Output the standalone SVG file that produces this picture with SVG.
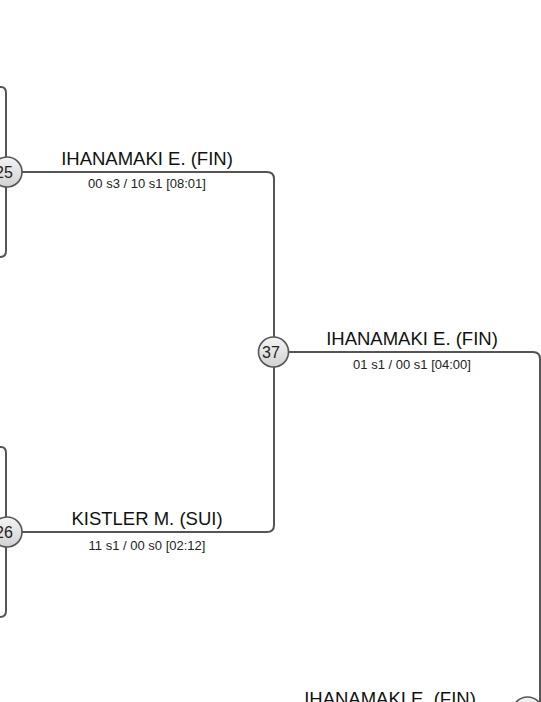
<svg xmlns="http://www.w3.org/2000/svg" width="541" height="702" viewBox="0 0 541 702">
<defs>
<linearGradient id="cg" x1="0" y1="0" x2="0" y2="1">
<stop offset="0" stop-color="#f4f4f4"/>
<stop offset="1" stop-color="#d2d2d2"/>
</linearGradient>
<style>
.ln{fill:none;stroke:#555;stroke-width:2}
.nd circle{fill:url(#cg);stroke:#555;stroke-width:1.6}
.nd text{font-family:"Liberation Sans",Arial,sans-serif;font-size:16px;fill:#222;text-anchor:middle}
.t{font-family:"Liberation Sans",Arial,sans-serif;font-size:18.5px;fill:#111;text-anchor:middle}
.s{font-family:"Liberation Sans",Arial,sans-serif;font-size:13px;fill:#222;text-anchor:middle}
</style>
</defs>
<rect width="541" height="702" fill="#fff"/>
<g id="connectors">
<path class="ln" d="M-20 87 H1 Q6 87 6 93 V251 Q6 257 0 257 H-20"/>
<path class="ln" d="M-20 447 H1 Q6 447 6 453 V611 Q6 617 0 617 H-20"/>
<path class="ln" d="M20 172 H267 Q274 172 274 179 V525 Q274 532 267 532 H20"/>
<path class="ln" d="M288 352 H533 Q540 352 540 359 V702"/>
</g>
<g id="label-25">
<text class="t" x="147" y="164.5">IHANAMAKI E. (FIN)</text>
<text class="s" x="147" y="187.5">00 s3 / 10 s1 [08:01]</text>
</g>
<g id="label-26">
<text class="t" x="147" y="525">KISTLER M. (SUI)</text>
<text class="s" x="147" y="549.5">11 s1 / 00 s0 [02:12]</text>
</g>
<g id="label-37">
<text class="t" x="412" y="345">IHANAMAKI E. (FIN)</text>
<text class="s" x="412" y="369">01 s1 / 00 s1 [04:00]</text>
</g>
<g id="label-next">
<text class="t" x="390" y="705">IHANAMAKI E. (FIN)</text>
</g>
<g id="node-25" class="nd">
<circle cx="7" cy="172" r="15"/>
<text x="4" y="178">25</text>
</g>
<g id="node-26" class="nd">
<circle cx="7" cy="532" r="15"/>
<text x="4" y="538">26</text>
</g>
<g id="node-37" class="nd">
<circle cx="273.5" cy="352" r="15"/>
<text x="271" y="358">37</text>
</g>
<g id="node-next" class="nd">
<circle cx="527.5" cy="712" r="15"/>
</g>
</svg>
